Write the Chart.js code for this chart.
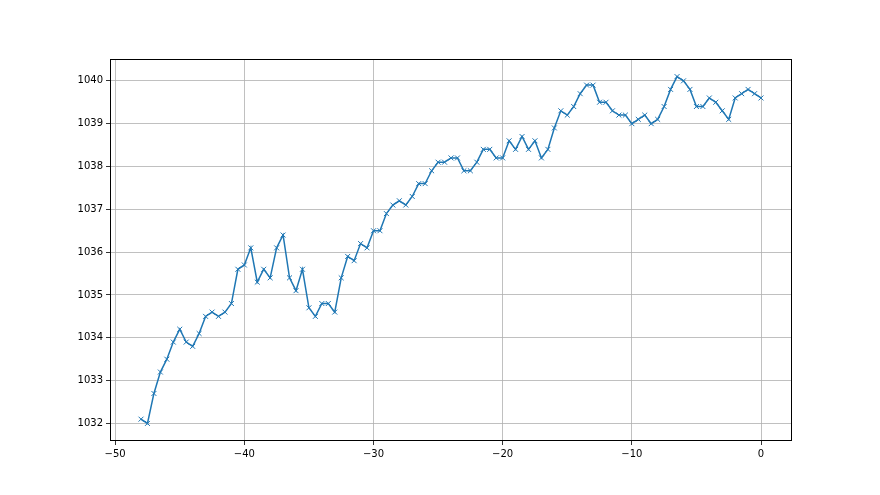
<!DOCTYPE html>
<html>
<head>
<meta charset="utf-8">
<script src="https://cdn.jsdelivr.net/npm/chart.js@4/dist/chart.umd.min.js"></script>
<style>
  html, body { margin: 0; padding: 0; background: #fff; }
  #wrap { width: 880px; height: 495px; }
</style>
</head>
<body>
<div id="wrap"><canvas id="chart" width="880" height="495"></canvas></div>
<script>
// x positions (time offsets) and the measured values
var xs = [-48, -47.5, -47, -46.5, -46, -45.5, -45, -44.5, -44, -43.5,
  -43, -42.5, -42, -41.5, -41, -40.5, -40, -39.5, -39, -38.5,
  -38, -37.5, -37, -36.5, -36, -35.5, -35, -34.5, -34, -33.5,
  -33, -32.5, -32, -31.5, -31, -30.5, -30, -29.5, -29, -28.5,
  -28, -27.5, -27, -26.5, -26, -25.5, -25, -24.5, -24, -23.5,
  -23, -22.5, -22, -21.5, -21, -20.5, -20, -19.5, -19, -18.5,
  -18, -17.5, -17, -16.5, -16, -15.5, -15, -14.5, -14, -13.5,
  -13, -12.5, -12, -11.5, -11, -10.5, -10, -9.5, -9, -8.5,
  -8, -7.5, -7, -6.5, -6, -5.5, -5, -4.5, -4, -3.5,
  -3, -2.5, -2, -1.5, -1, -0.5, 0];

var values = [1032.1, 1032.0, 1032.7, 1033.2, 1033.5, 1033.9, 1034.2, 1033.9, 1033.8, 1034.1,
  1034.5, 1034.6, 1034.5, 1034.6, 1034.8, 1035.6, 1035.7, 1036.1, 1035.3, 1035.6,
  1035.4, 1036.1, 1036.4, 1035.4, 1035.1, 1035.6, 1034.7, 1034.5, 1034.8, 1034.8,
  1034.6, 1035.4, 1035.9, 1035.8, 1036.2, 1036.1, 1036.5, 1036.5, 1036.9, 1037.1,
  1037.2, 1037.1, 1037.3, 1037.6, 1037.6, 1037.9, 1038.1, 1038.1, 1038.2, 1038.2,
  1037.9, 1037.9, 1038.1, 1038.4, 1038.4, 1038.2, 1038.2, 1038.6, 1038.4, 1038.7,
  1038.4, 1038.6, 1038.2, 1038.4, 1038.9, 1039.3, 1039.2, 1039.4, 1039.7, 1039.9,
  1039.9, 1039.5, 1039.5, 1039.3, 1039.2, 1039.2, 1039.0, 1039.1, 1039.2, 1039.0,
  1039.1, 1039.4, 1039.8, 1040.1, 1040.0, 1039.8, 1039.4, 1039.4, 1039.6, 1039.5,
  1039.3, 1039.1, 1039.6, 1039.7, 1039.8, 1039.7, 1039.6];

var xTicks = [-50, -40, -30, -20, -10, 0];
var yTicks = [1032, 1033, 1034, 1035, 1036, 1037, 1038, 1039, 1040];

var points = xs.map(function (x, i) { return { x: x, y: values[i] }; });

function minusSign(v) {
  return String(v).replace('-', '\u2212');
}

// draw the box round the plot area like matplotlib spines
var frame = {
  id: 'frame',
  afterDraw: function (chart) {
    var a = chart.chartArea;
    var ctx = chart.ctx;
    ctx.save();
    ctx.strokeStyle = '#000';
    ctx.lineWidth = 1;
    ctx.strokeRect(Math.round(a.left) + 0.5, Math.round(a.top) + 0.5,
      Math.round(a.right - a.left) - 1, Math.round(a.bottom - a.top) - 1);
    ctx.restore();
  }
};

new Chart(document.getElementById('chart'), {
  type: 'line',
  data: {
    datasets: [{
      data: points,
      borderColor: '#1f77b4',
      backgroundColor: '#1f77b4',
      borderWidth: 1.5,
      tension: 0,
      pointStyle: 'crossRot',
      pointRadius: 3.5,
      pointBorderWidth: 1,
      pointBorderColor: '#1f77b4',
      fill: false
    }]
  },
  options: {
    responsive: false,
    animation: false,
    events: [],
    layout: { padding: { left: 0, top: 59, right: 88, bottom: 0 } },
    plugins: { legend: { display: false }, tooltip: { enabled: false } },
    scales: {
      x: {
        type: 'linear',
        min: -50.4,
        max: 2.4,
        afterBuildTicks: function (s) { s.ticks = xTicks.map(function (v) { return { value: v }; }); },
        afterFit: function (s) { s.height = 54; },
        border: { display: false },
        grid: { color: '#b0b0b0', lineWidth: 0.8, tickColor: '#000', tickLength: 4 },
        ticks: {
          color: '#000',
          padding: 3,
          maxRotation: 0,
          font: { family: 'DejaVu Sans', size: 10 },
          callback: function (v) { return minusSign(v); }
        }
      },
      y: {
        type: 'linear',
        min: 1031.59,
        max: 1040.51,
        afterBuildTicks: function (s) { s.ticks = yTicks.map(function (v) { return { value: v }; }); },
        afterFit: function (s) { s.width = 110; },
        border: { display: false },
        grid: { color: '#b0b0b0', lineWidth: 0.8, tickColor: '#000', tickLength: 4 },
        ticks: {
          color: '#000',
          padding: 3,
          font: { family: 'DejaVu Sans', size: 10 },
          callback: function (v) { return String(v); }
        }
      }
    }
  },
  plugins: [frame]
});
</script>
</body>
</html>
